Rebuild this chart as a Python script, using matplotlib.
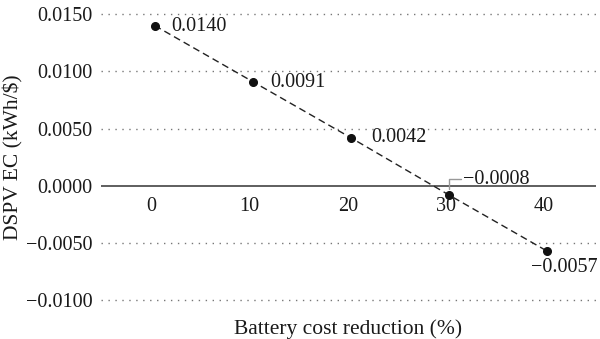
import numpy as np
import matplotlib.pyplot as plt

# battery cost reduction (%) vs DSPV EC
reduction = [0, 10, 20, 30, 40]
ec = [0.0140, 0.0091, 0.0042, -0.0008, -0.0057]
labels = ['0.0140', '0.0091', '0.0042', '\u22120.0008', '\u22120.0057']
yticks = [0.015, 0.010, 0.005, 0.0, -0.005, -0.010]
gridlines = [0.015, 0.010, 0.005, -0.005, -0.010]

plt.rcParams['font.family'] = ['Liberation Serif', 'DejaVu Serif']

fig = plt.figure(figsize=(6.0, 3.39), dpi=100)
ax = fig.add_axes([0.168, 0.108, 0.825, 0.857])

for g in gridlines:
    ax.axhline(g, color='#777777', lw=1.0, ls=(0, (1, 4)), zorder=1)
ax.axhline(0, color='#333333', lw=1.1, zorder=2)

ax.plot(reduction, ec, color='#222222', lw=1.0, ls=(0, (5, 3)), zorder=3)
ax.plot(reduction, ec, 'o', color='#111111', ms=5.5, zorder=4)

# value labels (pixel offsets from each point)
offs = [(17, -1), (18, -1), (20, 0), (14, 15), (-16, -17)]
for x, y, s, (dx, dy) in zip(reduction, ec, labels, offs):
    ax.annotate(s, (x, y), xytext=(dx, dy), textcoords='offset pixels',
                ha='left', va='center', fontsize=14.5, color='#1a1a1a')

# leader for the -0.0008 label
ax.annotate('', (reduction[3], ec[3]), xytext=(12, 16), textcoords='offset pixels',
            arrowprops=dict(arrowstyle='-', color='#999999', lw=1.0,
                            connectionstyle='angle,angleA=0,angleB=90,rad=0',
                            shrinkA=0, shrinkB=4))

ax.set_xlim(-5.5, 45.0)
ax.set_ylim(-0.0102, 0.0152)
ax.set_yticks(yticks)
ax.set_yticklabels(['%.4f' % v if v >= 0 else '\u2212%.4f' % -v for v in yticks])
ax.set_xticks([])
ax.tick_params(axis='y', length=0, labelsize=14.5, colors='#1a1a1a', pad=6)
for spine in ax.spines.values():
    spine.set_visible(False)

# x tick labels sit just under the zero line
for x in reduction:
    ax.annotate(str(x), (x, 0), xytext=(-3, -11), textcoords='offset pixels',
                ha='center', va='top', fontsize=14.5, color='#1a1a1a')

ax.set_xlabel('Battery cost reduction (%)', fontsize=15.5, color='#1a1a1a', labelpad=12)
ax.set_ylabel('DSPV EC (kWh/$)', fontsize=15.5, color='#1a1a1a', labelpad=2)

fig.savefig('out.png', dpi=100)
